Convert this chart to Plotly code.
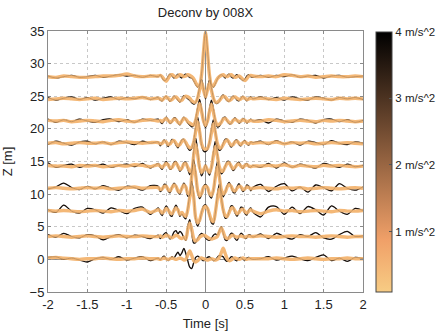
import plotly.graph_objects as go
from plotly.colors import sample_colorscale

TITLE = "Deconv by 008X"
X_LABEL = "Time [s]"
Y_LABEL = "Z [m]"

# time axis: coarse outside, fine around the pulse
TIME = [-2.0, -1.9, -1.8, -1.7, -1.6, -1.5, -1.4, -1.3, -1.2, -1.1, -1.0, -0.9, -0.8, -0.7,
        -0.6, -0.575, -0.55, -0.525, -0.5, -0.475, -0.45, -0.425, -0.4, -0.375, -0.35, -0.325,
        -0.3, -0.275, -0.25, -0.225, -0.2, -0.175, -0.15, -0.125, -0.1, -0.075, -0.05, -0.025,
        0.0, 0.025, 0.05, 0.075, 0.1, 0.125, 0.15, 0.175, 0.2, 0.225, 0.25, 0.275, 0.3, 0.325,
        0.35, 0.375, 0.4, 0.425, 0.45, 0.475, 0.5, 0.525, 0.55, 0.575, 0.6,
        0.7, 0.8, 0.9, 1.0, 1.1, 1.2, 1.3, 1.4, 1.5, 1.6, 1.7, 1.8, 1.9, 2.0]

# trace offsets (sensor heights, m)
LEVELS = [28.0, 24.6, 21.2, 17.8, 14.3, 10.9, 7.4, 3.5, 0.1]

# colour values (m/s^2) of the drawn groups
LIGHT_VALUE = 0.45
DARK_VALUE = 3.7
CB_MIN, CB_MAX = 0.1, 4.0
CB_TICKS = [1, 2, 3, 4]
CB_TEXT = ["1 m/s^2", "2 m/s^2", "3 m/s^2", "4 m/s^2"]

# light (low-amplitude) waveforms, relative to their level
LIGHT_0 = [0.0, -0.1, 0.1, 0.0, -0.1, -0.1, 0.0, 0.1, 0.1, 0.2, 0.4, 0.1, 0.0, 0.1,
           0.1, 0.2, 0.0, -0.4, -0.7, -0.3, 0.2, 0.3, 0.1, -0.1, 0.1, 0.3, 0.2, 0.0, 0.1, 0.3, 0.2, 0.0,
           -0.3, -0.9, -1.4, -1.3, 0.3, 3.8, 6.8, 3.8, 0.3, -1.3, -1.4, -0.9, -0.3, 0.0, 0.2, 0.3,
           0.1, 0.0, 0.2, 0.3, 0.1, -0.1, 0.0, 0.1, -0.1, -0.4, -0.6, -0.3, 0.1, 0.2, 0.1,
           0.0, 0.1, 0.0, 0.3, 0.2, 0.0, 0.1, -0.1, 0.0, 0.1, 0.0, 0.0, 0.1, 0.0]
LIGHT_1 = [-0.1, 0.0, 0.1, 0.0, -0.1, 0.0, 0.1, -0.1, 0.0, 0.1, 0.0, 0.1, 0.2, 0.0,
           0.1, 0.0, -0.2, 0.1, 0.3, 0.1, -0.2, -0.1, 0.2, 0.3, 0.0, -0.3, -0.2, 0.2, 0.4, 0.3,
           0.1, -0.3, -0.5, -0.5, 0.1, 1.4, 2.5, 1.4, 0.3, 1.4, 2.4, 1.3, 0.1, -0.5, -0.5, -0.3,
           0.1, 0.4, 0.3, -0.1, -0.3, -0.1, 0.2, 0.3, 0.1, -0.1, 0.0, 0.2, 0.1, -0.1, 0.0, 0.1, 0.0,
           0.1, 0.0, -0.1, 0.1, 0.0, -0.1, 0.0, 0.1, 0.0, -0.1, 0.1, 0.0, 0.1, 0.0]
LIGHT_2 = [0.1, 0.0, 0.1, -0.1, 0.0, 0.1, 0.0, -0.1, 0.1, 0.2, 0.0, -0.1, 0.1, 0.2,
           0.0, 0.1, -0.1, 0.2, 0.4, 0.1, -0.2, 0.0, 0.3, 0.2, -0.2, -0.4, 0.0, 0.4, 0.3, -0.1,
           -0.3, -0.5, -0.6, 0.1, 1.5, 2.7, 1.5, 0.0, -0.7, 0.0, 1.4, 2.6, 1.4, 0.0, -0.6, -0.5,
           -0.2, 0.3, 0.4, 0.1, -0.2, -0.3, 0.1, 0.3, 0.1, -0.1, 0.0, 0.2, 0.1, -0.1, 0.0, 0.1, 0.0,
           0.0, 0.2, 0.1, -0.1, 0.0, 0.1, 0.0, -0.1, 0.1, 0.0, 0.1, 0.0, -0.1, 0.0]
LIGHT_3 = [0.0, 0.1, -0.1, 0.0, 0.1, 0.0, 0.0, 0.1, -0.1, 0.1, 0.2, 0.1, 0.0, 0.1,
           0.1, -0.1, 0.0, 0.3, 0.2, -0.2, -0.1, 0.3, 0.4, 0.0, -0.4, -0.2, 0.3, 0.5, 0.1, -0.4,
           -0.7, -0.6, 0.1, 1.8, 3.3, 1.8, -0.1, -0.8, -0.9, -0.8, 0.0, 1.6, 3.0, 1.6, 0.0, -0.7,
           -0.7, -0.2, 0.3, 0.5, 0.1, -0.3, -0.2, 0.2, 0.3, 0.0, -0.2, 0.1, 0.2, 0.0, -0.1, 0.1, 0.0,
           0.1, 0.0, 0.2, -0.1, 0.1, 0.0, 0.1, -0.1, 0.0, 0.1, 0.0, 0.1, 0.0, -0.1]
LIGHT_4 = [0.1, 0.0, 0.0, -0.1, 0.1, 0.0, 0.1, -0.1, 0.0, 0.1, 0.0, 0.2, 0.1, -0.1,
           0.2, 0.0, -0.2, 0.1, 0.4, 0.2, -0.3, -0.2, 0.3, 0.5, 0.0, -0.5, -0.3, 0.3, 0.4, -0.2,
           -0.8, -0.6, 1.6, 3.3, 1.8, -0.2, -1.0, -0.6, 0.0, -0.6, -1.0, -0.2, 1.6, 3.0, 1.6, -0.1,
           -0.8, -0.7, -0.1, 0.4, 0.5, 0.0, -0.4, -0.2, 0.2, 0.3, 0.0, -0.2, 0.1, 0.2, 0.0, -0.1, 0.0,
           0.0, 0.1, 0.0, 0.2, -0.1, 0.1, 0.0, -0.1, 0.1, 0.0, 0.1, 0.0, -0.1, 0.0]
LIGHT_5 = [0.0, 0.1, 0.0, -0.1, 0.0, 0.1, 0.0, 0.1, -0.1, 0.0, 0.1, 0.2, 0.0, 0.1,
           0.1, -0.2, -0.1, 0.3, 0.3, -0.2, -0.4, 0.1, 0.5, 0.3, -0.4, -0.6, 0.0, 0.5, 0.2, -0.8,
           -0.8, 1.8, 3.6, 2.0, -0.3, -1.2, -0.8, 0.1, 0.3, 0.1, -0.8, -1.1, -0.3, 1.7, 3.3, 1.8,
           -0.2, -0.9, -0.6, 0.2, 0.6, 0.3, -0.3, -0.4, 0.0, 0.3, 0.2, -0.2, -0.1, 0.2, 0.1, -0.1, 0.0,
           0.1, 0.0, -0.1, 0.1, 0.0, 0.1, -0.1, 0.0, 0.1, 0.0, -0.1, 0.0, 0.1, 0.0]
LIGHT_6 = [0.1, 0.0, 0.1, 0.0, -0.1, 0.0, 0.1, 0.0, -0.1, 0.1, 0.0, 0.1, 0.3, -0.2,
           0.2, 0.0, -0.3, 0.0, 0.4, 0.2, -0.3, -0.4, 0.1, 0.5, 0.2, -0.5, -0.2, -0.6, -0.8, 0.2,
           2.1, 3.8, 2.1, -1.0, -1.8, -1.4, -0.3, 0.5, 0.7, 0.4, -0.5, -1.4, -1.6, -0.2, 1.9, 3.4,
           1.9, 0.2, -0.7, -0.8, -0.2, 0.4, 0.5, 0.0, -0.4, -0.2, 0.2, 0.3, -0.1, -0.3, 0.0, 0.2, 0.0,
           -0.4, 0.0, 0.2, 0.0, 0.1, -0.1, 0.0, 0.1, 0.0, -0.1, 0.1, 0.0, 0.0, 0.1]
LIGHT_7 = [0.0, 0.1, 0.0, -0.1, 0.0, 0.1, 0.0, -0.1, 0.0, 0.1, 0.0, 0.0, 0.1, 0.0,
           0.0, 0.1, -0.1, 0.0, 0.2, 0.1, -0.1, -0.2, 0.0, 0.2, 0.1, -0.2, -0.3, -0.1, -0.4, 1.1,
           2.1, 1.1, -0.3, -0.7, -0.5, -0.1, 0.1, 0.2, 0.1, -0.1, -0.3, -0.4, -0.3, -0.2, 0.0, 0.7,
           1.3, 0.7, -0.1, -0.3, -0.2, 0.1, 0.2, 0.0, -0.1, 0.0, 0.1, 0.0, -0.1, 0.0, 0.1, 0.0, 0.0,
           0.1, 0.0, -0.1, 0.0, 0.1, 0.0, 0.0, -0.1, 0.0, 0.1, 0.0, -0.1, 0.0, 0.0]
LIGHT_8 = [0.1, 0.2, 0.1, 0.0, -0.1, 0.0, 0.0, 0.1, 0.0, -0.1, 0.0, 0.0, 0.1, 0.0,
           0.0, -0.1, 0.0, 0.1, 0.0, -0.1, 0.0, 0.1, 0.0, -0.1, 0.0, 0.1, 0.0, -0.2, -0.1, 0.6,
           1.2, 0.5, -0.3, -0.5, -0.3, 0.0, 0.1, 0.0, -0.1, -0.2, -0.1, 0.0, -0.1, -0.2, -0.1, 0.2,
           0.9, 1.6, 0.8, 0.0, -0.3, -0.2, 0.0, 0.1, 0.0, -0.1, 0.0, 0.1, 0.0, -0.1, 0.0, 0.0, 0.0,
           0.0, 0.0, 0.1, 0.0, -0.1, 0.0, 0.1, 0.0, -0.1, 0.0, 0.0, 0.1, 0.0, 0.0]

# dark (high-amplitude) waveforms, relative to their level
DARK_0 = [0.1, -0.2, 0.0, 0.2, -0.1, 0.0, 0.2, -0.1, 0.1, 0.3, 0.1, 0.2, -0.1, 0.2,
          0.0, 0.3, -0.2, -0.6, -0.5, 0.0, 0.4, 0.1, -0.2, 0.1, 0.4, 0.0, -0.2, 0.2, 0.4, 0.1,
          -0.1, -0.2, -0.6, -1.2, -1.6, -1.2, 0.5, 4.2, 7.0, 4.2, 0.5, -1.2, -1.6, -1.1, -0.4, 0.1,
          0.3, 0.1, -0.2, 0.2, 0.4, 0.0, -0.2, 0.1, 0.3, -0.1, -0.3, -0.6, -0.4, 0.1, 0.3, 0.0, -0.1,
          0.2, -0.1, 0.2, 0.0, 0.3, -0.1, 0.1, 0.2, -0.2, 0.1, 0.2, -0.1, 0.0, 0.1]
DARK_1 = [0.2, -0.2, 0.1, 0.3, -0.1, 0.2, -0.2, 0.1, 0.3, -0.1, 0.2, 0.0, 0.3, -0.1,
          0.2, -0.2, -0.3, 0.2, 0.4, 0.0, -0.4, 0.0, 0.4, 0.2, -0.2, -0.5, 0.0, 0.5, 0.3, 0.0,
          -0.2, -0.6, -0.8, -0.6, 0.3, 1.8, 3.0, 1.5, 0.0, 1.5, 2.9, 1.7, 0.2, -0.6, -0.7, -0.4,
          0.3, 0.6, 0.1, -0.3, -0.4, 0.1, 0.4, 0.2, -0.2, -0.3, 0.1, 0.4, 0.0, -0.3, 0.1, 0.3, 0.0,
          0.3, -0.1, 0.2, -0.2, 0.3, 0.0, -0.2, 0.3, 0.1, -0.2, 0.2, 0.0, 0.2, -0.1]
DARK_2 = [0.3, -0.2, 0.2, -0.1, 0.3, 0.0, -0.2, 0.2, 0.3, -0.1, 0.2, -0.2, 0.3, 0.1,
          0.3, -0.1, -0.4, 0.1, 0.6, 0.2, -0.4, -0.1, 0.5, 0.4, -0.3, -0.6, 0.1, 0.6, 0.2, -0.3,
          -0.6, -0.9, -0.7, 0.4, 2.0, 3.3, 1.8, -0.2, -1.0, -0.2, 1.8, 3.2, 1.9, 0.1, -0.9, -0.8,
          -0.2, 0.5, 0.6, 0.0, -0.4, -0.4, 0.2, 0.5, 0.1, -0.3, -0.1, 0.4, 0.2, -0.3, 0.0, 0.3, 0.0,
          0.2, -0.3, 0.3, 0.0, -0.2, 0.3, 0.1, -0.3, 0.2, 0.3, -0.1, 0.2, -0.2, 0.1]
DARK_3 = [-0.2, 0.3, 0.0, -0.3, 0.2, 0.3, -0.1, 0.2, -0.2, 0.3, 0.1, -0.2, 0.3, 0.0,
          0.2, -0.4, 0.1, 0.5, 0.1, -0.5, 0.0, 0.6, 0.4, -0.3, -0.7, -0.1, 0.5, 0.6, -0.1, -0.7,
          -1.1, -0.8, 0.4, 2.4, 4.0, 2.1, -0.3, -1.2, -1.3, -1.0, 0.2, 2.1, 3.6, 1.9, -0.2, -1.1,
          -0.9, 0.0, 0.6, 0.6, -0.1, -0.6, -0.3, 0.4, 0.5, -0.2, -0.4, 0.2, 0.4, -0.1, -0.3, 0.2, 0.1,
          0.3, -0.2, 0.4, -0.1, 0.2, -0.3, 0.3, 0.1, -0.2, 0.4, 0.0, -0.2, 0.2, 0.0]
DARK_4 = [0.5, -0.2, 0.1, 0.3, -0.2, 0.2, 0.0, 0.3, -0.2, 0.1, 0.3, -0.1, 0.4, -0.3,
          0.4, -0.2, -0.5, 0.2, 0.7, 0.3, -0.5, -0.3, 0.6, 0.7, -0.1, -0.8, -0.4, 0.5, 0.6, -0.4,
          -1.3, -0.8, 2.3, 4.3, 2.3, -0.4, -1.5, -0.8, 0.2, -0.7, -1.4, -0.3, 2.1, 3.8, 2.0, -0.3,
          -1.2, -0.9, 0.0, 0.7, 0.7, -0.1, -0.7, -0.4, 0.4, 0.6, 0.0, -0.4, 0.2, 0.4, -0.1, -0.2, 0.1,
          -0.2, 0.4, -0.3, 0.5, -0.2, 0.3, 0.0, -0.3, 0.4, 0.1, -0.2, 0.3, -0.1, 0.1]
DARK_5 = [-0.1, 0.2, 0.8, 0.1, -0.2, 0.3, -0.1, 0.4, 0.0, -0.3, 0.3, 0.1, -0.3, 0.4,
          0.3, -0.5, -0.2, 0.6, 0.5, -0.4, -0.7, 0.2, 0.8, 0.4, -0.6, -0.9, 0.1, 0.8, 0.3, -1.2,
          -1.1, 2.3, 4.4, 2.4, -0.6, -1.6, -1.0, 0.3, 0.6, 0.2, -1.1, -1.5, -0.4, 2.1, 4.0, 2.2,
          -0.4, -1.3, -0.7, 0.4, 0.9, 0.3, -0.6, -0.7, 0.2, 0.7, 0.1, -0.5, -0.2, 0.5, 0.3, -0.4, 0.1,
          0.6, -0.5, 0.3, 0.7, -0.4, 0.2, -0.6, 0.5, 0.1, -0.4, 0.7, 0.0, -0.3, 0.2]
DARK_6 = [0.2, -0.2, 0.9, 0.0, -0.3, 0.4, 0.2, -0.3, 0.5, 0.1, -0.4, 0.4, 0.6, -0.5,
          0.5, -0.3, -0.7, 0.2, 0.8, 0.4, -0.6, -0.8, 0.3, 0.9, 0.3, -0.8, -0.4, -0.9, -1.2, 0.4,
          2.7, 4.6, 2.5, -1.3, -2.3, -1.6, -0.2, 0.8, 1.0, 0.5, -0.7, -1.8, -2.0, -0.3, 2.4, 4.1,
          2.2, 0.0, -1.1, -1.0, 0.0, 0.8, 0.7, -0.3, -0.8, -0.2, 0.6, 0.5, -0.4, -0.6, 0.2, 0.5, -0.1,
          -0.9, 0.6, 0.7, -0.5, 0.6, -0.4, 0.7, 0.2, -0.6, 0.8, 0.0, -0.5, 0.4, 0.1]
DARK_7 = [0.3, -0.1, 0.5, 0.0, -0.2, 0.3, 0.1, -0.5, 0.0, 0.3, -0.2, 0.2, 0.0, -0.3,
          0.2, -0.3, 0.0, 0.4, 0.6, 0.1, -0.4, 0.0, 0.7, 0.9, 0.4, 0.8, 0.5, -0.2, -0.6, 1.6,
          2.6, 0.6, -1.0, -0.9, -0.3, 0.2, 0.5, 0.3, -0.2, -0.5, -0.6, -0.3, 0.2, 0.4, 0.2, 0.9,
          1.5, 0.5, -0.5, -0.6, 0.0, 0.5, 0.4, -0.3, -0.6, 0.0, 0.5, 0.3, -0.3, -0.2, 0.3, 0.2, -0.1,
          0.4, -0.3, 0.5, 0.0, -0.4, 0.3, 0.0, 0.6, -0.2, -0.4, 0.3, 0.8, 0.0, 0.1]
DARK_8 = [0.2, 0.3, -0.1, 0.1, -0.2, -0.5, 0.0, 0.2, -0.1, 0.3, -0.2, 0.1, 0.3, -0.3,
          0.1, -0.2, 0.2, 0.4, 0.0, -0.3, 0.0, 0.3, 0.1, 0.6, 1.0, 0.5, 0.9, 1.6, 0.8, -0.3,
          -1.3, -1.5, -0.6, 0.2, 0.4, 0.2, -0.1, -0.3, -0.1, 0.2, 0.3, 0.0, -0.3, -0.2, 0.2, 0.5,
          0.4, 0.3, -0.2, -0.4, -0.1, 0.3, 0.2, -0.2, -0.3, 0.1, 0.2, -0.1, -0.2, 0.1, 0.2, 0.0, -0.1,
          0.0, 0.3, -0.2, 0.1, 0.4, 0.0, -0.3, 0.2, 0.6, -0.3, 0.1, -0.4, 0.2, 0.0]

LIGHT = [LIGHT_0, LIGHT_1, LIGHT_2, LIGHT_3, LIGHT_4, LIGHT_5, LIGHT_6, LIGHT_7, LIGHT_8]
DARK = [DARK_0, DARK_1, DARK_2, DARK_3, DARK_4, DARK_5, DARK_6, DARK_7, DARK_8]
for i, (a, b) in enumerate(zip(LIGHT, DARK)):
    assert len(a) == len(TIME), ("light", i, len(a))
    assert len(b) == len(TIME), ("dark", i, len(b))

# reversed "copper" colormap: pale orange (low) -> black (high)
COLORSCALE = [[0.0, "rgb(247,204,132)"], [0.2, "rgb(240,160,104)"], [1.0, "rgb(0,0,0)"]]


def cval(v):
    return sample_colorscale(COLORSCALE, [(v - CB_MIN) / (CB_MAX - CB_MIN)])[0]


FONT = "Liberation Sans, Arial, sans-serif"
fig = go.Figure()

dark_col = cval(DARK_VALUE)
light_col = cval(LIGHT_VALUE)


def line(lev, wave, color, width, opacity=1.0):
    return go.Scatter(x=TIME, y=[lev + w for w in wave], mode="lines", opacity=opacity,
                      line=dict(color=color, width=width, shape="spline", smoothing=0.8),
                      hoverinfo="skip", showlegend=False)


for lev, wave in zip(LEVELS, DARK):
    fig.add_trace(line(lev, wave, dark_col, 1.3))
for lev, wave in zip(LEVELS, LIGHT):
    fig.add_trace(line(lev, wave, light_col, 3.4))
for lev, wave in zip(LEVELS, DARK):
    fig.add_trace(line(lev, wave, dark_col, 0.7, 0.3))

# colour bar carrier
fig.add_trace(go.Scatter(
    x=[0], y=[-100], mode="markers", hoverinfo="skip", showlegend=False,
    marker=dict(size=1, color=[CB_MIN], cmin=CB_MIN, cmax=CB_MAX, colorscale=COLORSCALE,
                showscale=True,
                colorbar=dict(thickness=16, len=260, lenmode="pixels", x=1.041, xanchor="left",
                              xpad=0, ypad=0, y=0.5, yanchor="middle",
                              outlinecolor="#444", outlinewidth=1,
                              tickvals=CB_TICKS, ticktext=CB_TEXT, ticks="inside", ticklen=3,
                              tickcolor="#555", tickfont=dict(family=FONT, size=11.5, color="#222"))),
))

axis_common = dict(showgrid=True, gridcolor="#c8c8c8", griddash="dot", gridwidth=1,
                   showline=True, linecolor="#8a8a8a", linewidth=1, mirror="ticks",
                   ticks="inside", ticklen=3, tickcolor="#8a8a8a", automargin=False,
                   zeroline=True, zerolinecolor="#8c8c8c", zerolinewidth=1,
                   tickfont=dict(family=FONT, size=13, color="#222"))

fig.update_layout(
    width=437, height=331,
    margin=dict(l=48, r=74, t=31, b=39, autoexpand=False),
    paper_bgcolor="white", plot_bgcolor="white",
    title=dict(text=TITLE, x=0.5, xref="paper", xanchor="center", y=0.961, yref="container",
               yanchor="middle", font=dict(family=FONT, size=13, color="#222")),
    xaxis=dict(range=[-2, 2], tickvals=[-2, -1.5, -1, -0.5, 0, 0.5, 1, 1.5, 2],
               ticktext=["-2", "-1.5", "-1", "-0.5", "0", "0.5", "1", "1.5", "2"],
               title=dict(text=X_LABEL, font=dict(family=FONT, size=13, color="#222")),
               **axis_common),
    yaxis=dict(range=[-5, 35], tickvals=[-5, 0, 5, 10, 15, 20, 25, 30, 35],
               title=dict(text=Y_LABEL, font=dict(family=FONT, size=13, color="#222")),
               **axis_common),
)

fig.write_html("out.html")
